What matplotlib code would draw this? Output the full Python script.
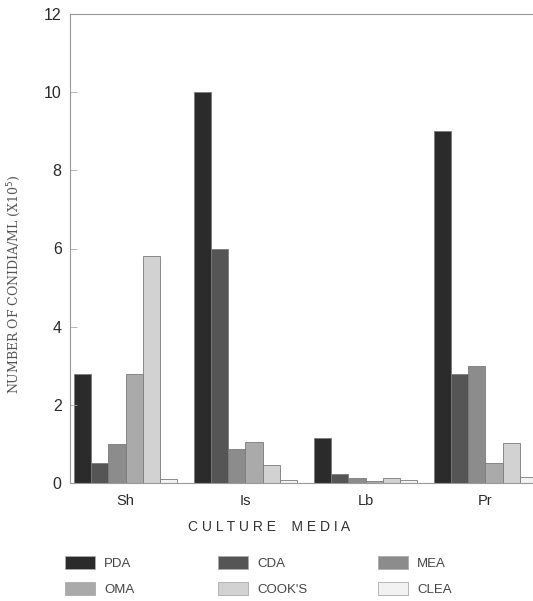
import matplotlib
matplotlib.use("Agg")
import matplotlib.pyplot as plt
import numpy as np
from matplotlib.patches import Patch

categories = ["Sh", "Is", "Lb", "Pr"]
series = ["PDA", "CDA", "MEA", "OMA", "COOK'S", "CLEA"]
PDA = [2.8, 10.0, 1.15, 9.0]
CDA = [0.5, 6.0, 0.23, 2.8]
MEA = [1.0, 0.87, 0.13, 3.0]
OMA = [2.8, 1.05, 0.05, 0.5]
COOKS = [5.8, 0.46, 0.13, 1.02]
CLEA = [0.1, 0.07, 0.07, 0.15]
values = [PDA, CDA, MEA, OMA, COOKS, CLEA]
yticks = [0, 2, 4, 6, 8, 10, 12]

colors = ["#2b2b2b", "#555555", "#8c8c8c", "#aaaaaa", "#d2d2d2", "#f2f2f2"]
edge = "#7a7a7a"

plt.rcParams['font.family'] = ['Liberation Sans', 'DejaVu Sans']
fig = plt.figure(figsize=(5.33, 6.01), dpi=100)
ax = fig.add_axes([70/533, 1-483/601, 1-70/533, (483-14)/601])

w = 0.143
x = np.arange(len(categories))
for i, (name, vals) in enumerate(zip(series, values)):
    ax.bar(x + (i - 2.5) * w, vals, width=w, color=colors[i], edgecolor=edge,
           linewidth=0.6, label=name)

ax.set_xlim(-0.4625, -0.4625 + 463/120)
ax.set_ylim(0, 12)
ax.set_yticks(yticks)
ax.set_yticklabels([str(t) for t in yticks], fontsize=11.5, color="#2a2a2a")
ax.set_xticks(x)
ax.set_xticklabels(categories, fontsize=10.5, color="#2a2a2a")
ax.tick_params(axis='x', length=0, pad=8)
ax.tick_params(axis='y', direction='in', length=5, width=0.6, color="#aaaaaa", pad=6)
for s in ["left", "bottom", "top"]:
    ax.spines[s].set_color("#999999")
    ax.spines[s].set_linewidth(0.8)
ax.spines["right"].set_visible(False)

ax.set_ylabel("NUMBER OF CONIDIA/ML (X10$^5$)", fontsize=9, family=['DejaVu Serif'],
              color="#555555")
ax.yaxis.set_label_coords(-47/463, (483-284)/469)
fig.text(269/533, 1-527/601, "C U L T U R E    M E D I A", fontsize=10, color="#333333",
         ha="center", va="center")

handles = [Patch(facecolor=c, edgecolor="#aaaaaa", linewidth=0.6) for c in colors]
cols = [(0, 3), (1, 4), (2, 5)]
xs = [56, 209, 369]
for (a, b), xp in zip(cols, xs):
    fig.legend([handles[a], handles[b]], [series[a], series[b]],
               loc="upper left", bbox_to_anchor=(xp/533, 1-547/601),
               frameon=False, fontsize=9.5, handlelength=2.25, handleheight=1.1,
               labelspacing=0.9, handletextpad=0.7, borderpad=0.2, labelcolor="#444444")

fig.savefig("out.png", dpi=100)
